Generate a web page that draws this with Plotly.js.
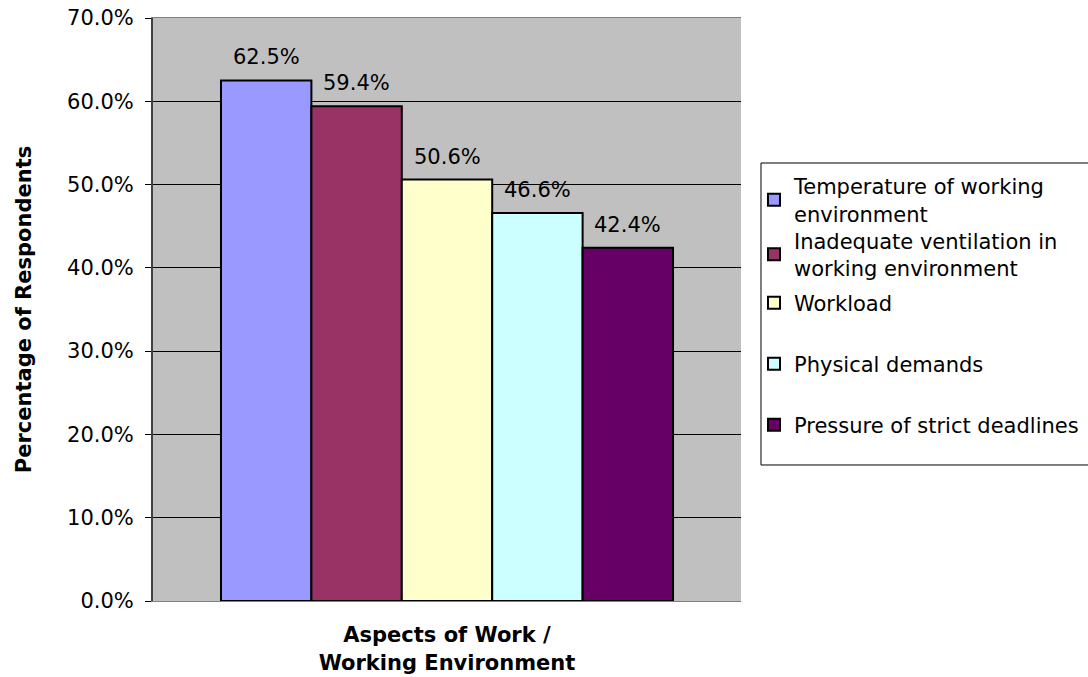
<!DOCTYPE html>
<html>
<head>
<meta charset="utf-8">
<script src="https://cdn.plot.ly/plotly-3.0.1.min.js"></script>
<style>html,body{margin:0;padding:0;background:#fff;}#chart{width:1088px;height:677px;}</style>
</head>
<body>
<div id="chart"></div>
<script>
const categories = ["Temperature", "Ventilation", "Workload", "Physical", "Deadlines"];
const seriesNames = [
  "Temperature of working<br>environment",
  "Inadequate ventilation in<br>working environment",
  "Workload",
  "Physical demands",
  "Pressure of strict deadlines"
];
const seriesValues = [0.625, 0.594, 0.506, 0.466, 0.424];
const seriesLabels = ["62.5%", "59.4%", "50.6%", "46.6%", "42.4%"];
const seriesColors = ["#9999FF", "#993366", "#FFFFCC", "#CCFFFF", "#660066"];

// legend item vertical centres (container fraction) - layout only
const legendY = [0.7046, 0.6241, 0.5524, 0.4623, 0.3722];

const FONT = "DejaVu Sans, Verdana, sans-serif";
const FS = 21;

const traces = seriesNames.map((name, i) => ({
  type: "bar",
  name: name,
  x: [categories[i]],
  y: [seriesValues[i]],
  width: 1,
  marker: {color: seriesColors[i], line: {color: "#000", width: 2}},
  legend: i === 0 ? "legend" : "legend" + (i + 1),
  hoverinfo: "skip"
}));

const annotations = seriesLabels.map((lab, i) => ({
  x: categories[i],
  y: seriesValues[i],
  xref: "x", yref: "y",
  text: lab,
  showarrow: false,
  xanchor: "center",
  yanchor: "bottom",
  yshift: 9,
  font: {family: FONT, size: FS, color: "#000"}
}));

const layout = {
  width: 1088,
  height: 677,
  margin: {l: 153, r: 347, t: 18, b: 76},
  paper_bgcolor: "#FFFFFF",
  plot_bgcolor: "#C0C0C0",
  font: {family: FONT, size: FS, color: "#000"},
  barmode: "overlay",
  showlegend: true,
  annotations: annotations,
  shapes: [{
    type: "rect", xref: "paper", yref: "paper",
    x0: 1.034, x1: 1.62, y0: 0.2333, y1: 0.7513,
    fillcolor: "#FFFFFF",
    line: {color: "#000", width: 1},
    layer: "above"
  }],
  xaxis: {
    type: "category",
    categoryorder: "array",
    categoryarray: categories,
    range: [-1.252, 5.252],
    showticklabels: false,
    ticks: "",
    showline: true,
    linecolor: "#808080",
    linewidth: 1,
    mirror: true,
    showgrid: false,
    title: {
      text: "Aspects of Work /<br>Working Environment",
      font: {family: FONT, size: FS, color: "#000", weight: "bold"},
      standoff: 26
    }
  },
  yaxis: {
    range: [0, 0.7],
    dtick: 0.1,
    tick0: 0,
    tickformat: ".1%",
    ticks: "outside",
    ticklen: 6,
    tickcolor: "#000",
    ticklabelstandoff: 7,
    showline: true,
    linecolor: "#404040",
    linewidth: 2,
    showgrid: true,
    gridcolor: "#000",
    gridwidth: 1,
    zeroline: false,
    tickfont: {family: FONT, size: FS, color: "#000"},
    title: {
      text: "Percentage of Respondents",
      font: {family: FONT, size: FS, color: "#000", weight: "bold"},
      standoff: 30
    }
  }
};

legendY.forEach((yv, i) => {
  const key = i === 0 ? "legend" : "legend" + (i + 1);
  layout[key] = {
    xref: "container", yref: "container",
    x: 0.693, xanchor: "left",
    y: yv, yanchor: "middle",
    bgcolor: "rgba(0,0,0,0)",
    borderwidth: 0,
    font: {family: FONT, size: FS, color: "#000"}
  };
});

Plotly.newPlot("chart", traces, layout, {displayModeBar: false, staticPlot: true});
</script>
</body>
</html>
